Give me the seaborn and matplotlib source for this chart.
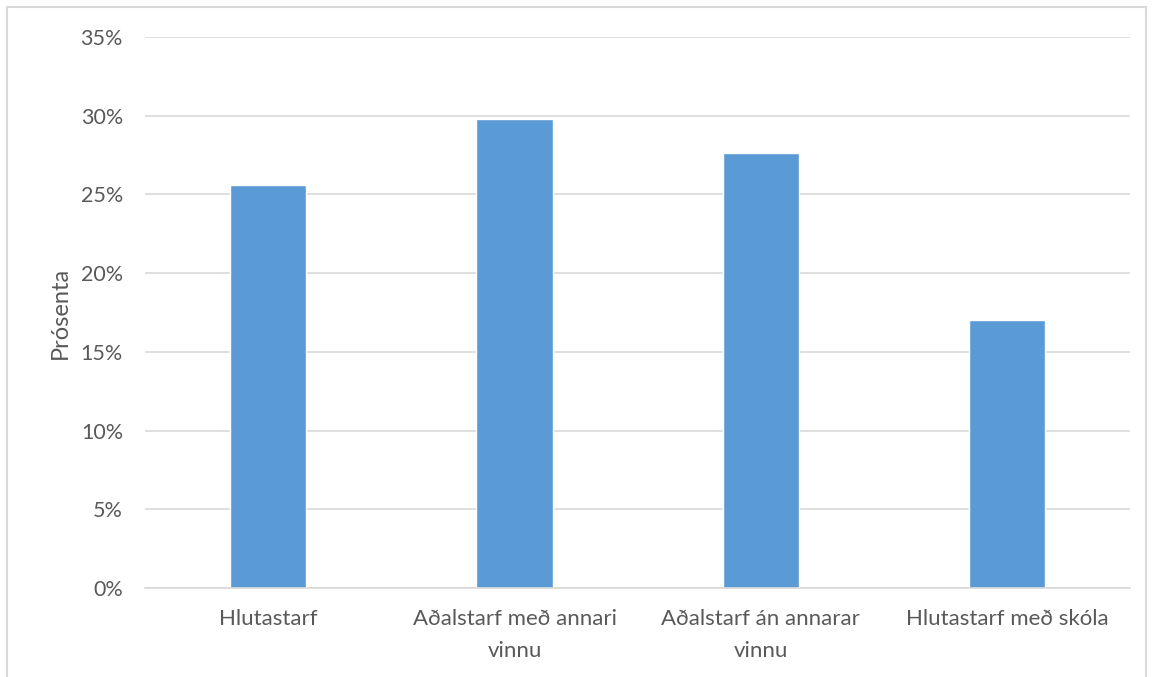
import matplotlib
matplotlib.use("Agg")
import matplotlib.pyplot as plt
from matplotlib.patches import Rectangle
from matplotlib.ticker import PercentFormatter
import seaborn as sns
import pandas as pd

categories = ["Hlutastarf", "Aðalstarf með annari\nvinnu", "Aðalstarf án annarar\nvinnu", "Hlutastarf með skóla"]
values = [25.6, 29.8, 27.65, 17.0]
yticks = [0, 5, 10, 15, 20, 25, 30, 35]

df = pd.DataFrame({"flokkur": categories, "prosenta": values})

sns.set_style("white")
plt.rcParams["font.family"] = ["Lato", "DejaVu Sans"]
txt = "#595959"

fig = plt.figure(figsize=(11.52, 6.77), dpi=100)
ax = fig.add_axes([0.126, 0.1315, 0.855, 0.8138])

sns.barplot(data=df, x="flokkur", y="prosenta", color="#5b9bd5", width=0.31,
            saturation=1, ax=ax)

ax.set_ylim(0, 35)
ax.set_yticks(yticks)
ax.yaxis.set_major_formatter(PercentFormatter(decimals=0))
ax.yaxis.grid(True, color="#d9d9d9", linewidth=1.2)
ax.set_axisbelow(True)
for s in ["top", "right", "left"]:
    ax.spines[s].set_visible(False)
ax.spines["bottom"].set_color("#d9d9d9")
ax.spines["bottom"].set_linewidth(1.2)
ax.tick_params(axis="both", length=0, colors=txt)
ax.tick_params(axis="y", pad=16, labelsize=15.5)
ax.tick_params(axis="x", pad=15, labelsize=16)
for lab in ax.get_xticklabels():
    lab.set_linespacing(1.75)
ax.set_xlabel("")
ax.set_ylabel("Prósenta", fontsize=17, color=txt, labelpad=7)

# outer chart border
fig.patches.append(Rectangle((7 / 1152, -0.01), 1139 / 1152, 1 - 7 / 677 + 0.01,
                             transform=fig.transFigure, fill=False,
                             edgecolor="#d9d9d9", linewidth=1.5))

fig.savefig("out.png", dpi=100)
